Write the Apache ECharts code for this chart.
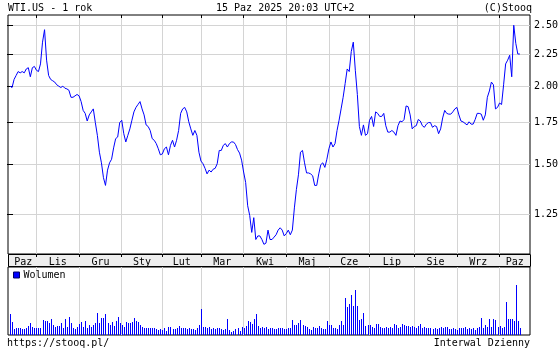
<!DOCTYPE html>
<html><head><meta charset="utf-8">
<script src="https://cdn.jsdelivr.net/npm/echarts@6/dist/echarts.min.js"></script>
<style>html,body{margin:0;padding:0;background:#fff}#c{width:560px;height:350px}</style>
</head><body><div id="c"></div>
<script>
// daily close prices (USD), 2024-10-15 .. 2025-10-15
const priceValues = [
2.00,1.99,2.05,2.08,2.11,2.10,2.11,2.10,2.13,2.14,
2.07,2.14,2.15,2.12,2.11,2.17,2.35,2.46,2.20,2.08,
2.05,2.04,2.03,2.01,2.00,1.99,2.00,1.985,1.98,1.97,
1.92,1.92,1.93,1.94,1.93,1.89,1.83,1.81,1.76,1.80,
1.82,1.84,1.75,1.67,1.57,1.51,1.43,1.39,1.47,1.51,
1.53,1.595,1.65,1.66,1.75,1.765,1.68,1.63,1.67,1.71,
1.765,1.82,1.85,1.87,1.89,1.84,1.80,1.735,1.725,1.70,
1.65,1.64,1.62,1.59,1.555,1.56,1.59,1.60,1.555,1.61,
1.64,1.60,1.64,1.70,1.81,1.84,1.85,1.82,1.755,1.71,
1.67,1.70,1.67,1.57,1.52,1.505,1.48,1.45,1.47,1.46,
1.475,1.48,1.505,1.58,1.58,1.61,1.62,1.60,1.62,1.63,
1.63,1.615,1.585,1.565,1.525,1.46,1.405,1.29,1.245,1.17,
1.235,1.14,1.155,1.155,1.14,1.12,1.125,1.18,1.14,1.14,
1.15,1.16,1.18,1.19,1.18,1.155,1.165,1.18,1.16,1.18,
1.28,1.37,1.445,1.57,1.58,1.51,1.455,1.455,1.45,1.44,
1.39,1.39,1.45,1.50,1.51,1.485,1.53,1.59,1.63,1.60,
1.62,1.70,1.765,1.84,1.92,2.02,2.13,2.11,2.27,2.35,
2.12,1.94,1.725,1.67,1.735,1.67,1.68,1.765,1.79,1.725,
1.82,1.81,1.79,1.79,1.81,1.73,1.69,1.69,1.70,1.69,
1.67,1.73,1.76,1.755,1.77,1.86,1.855,1.80,1.71,1.725,
1.73,1.77,1.76,1.73,1.72,1.74,1.75,1.75,1.72,1.73,
1.725,1.68,1.71,1.78,1.83,1.81,1.805,1.805,1.82,1.84,
1.85,1.80,1.76,1.755,1.745,1.735,1.755,1.74,1.74,1.77,
1.81,1.81,1.805,1.765,1.80,1.92,1.965,2.03,2.01,1.84,
1.85,1.88,1.87,2.01,2.17,2.20,2.24,2.07,2.50,2.34,
2.25,2.25
];
// daily volume (millions, estimated)
const volumeValues = [
10.5,6.7,2.8,3.3,3.3,3.3,2.8,2.8,3.3,4.5,
5.8,4.2,3.3,3.7,3.3,3.3,7.5,7.2,7.2,6.2,
7.8,5.0,3.8,4.5,4.5,5.8,3.3,7.8,3.8,9.2,
6.2,3.3,2.8,3.8,5.5,6.7,3.8,6.8,3.3,5.0,
3.8,5.0,5.8,11.2,5.8,8.3,8.3,10.5,5.8,5.0,
6.7,4.5,7.2,8.8,6.2,5.0,3.8,6.7,6.2,5.8,
6.7,8.5,7.2,6.7,5.0,3.8,3.3,3.3,3.3,3.3,
3.3,3.3,2.8,2.5,2.8,2.5,3.3,2.2,3.8,3.8,
2.8,2.8,3.3,4.5,3.3,3.3,3.3,2.8,3.3,2.8,
2.8,2.5,3.3,5.0,13.0,4.2,3.8,3.3,3.8,2.8,
3.3,2.8,3.3,3.3,2.8,2.5,2.8,8.0,2.5,1.7,
2.2,2.8,3.3,2.2,3.8,3.3,4.5,7.2,6.7,5.5,
7.8,10.5,4.5,3.3,4.2,3.3,3.8,2.8,3.3,3.3,
2.8,2.8,3.3,3.3,3.3,2.8,2.8,3.3,3.3,7.5,
5.0,5.0,5.8,7.5,5.0,4.5,3.8,2.8,2.5,3.8,
3.3,3.3,4.5,3.3,3.2,2.8,7.0,5.0,5.0,3.3,
3.3,2.8,5.0,7.2,5.0,18.3,13.8,15.5,20.0,14.5,
22.5,14.5,7.5,7.8,10.8,4.5,5.0,5.0,3.8,3.3,
5.5,5.5,4.2,3.3,3.3,3.8,3.3,3.8,3.3,5.5,
5.0,3.3,3.8,5.5,5.0,4.5,4.5,3.8,4.5,3.8,
3.3,4.5,5.5,3.3,3.8,3.3,3.3,3.3,2.8,3.3,
2.8,3.3,3.8,3.3,3.8,3.8,2.8,2.8,3.3,2.8,
2.5,3.3,3.3,3.3,3.8,2.8,3.3,2.8,3.3,2.5,
3.3,3.8,8.3,3.3,5.0,3.8,8.0,3.8,7.8,7.5,
3.8,4.5,3.3,3.8,16.7,7.8,7.8,7.8,7.2,25.0,
7.2,3.3
];
const monthLabels = ['Paz','Lis','Gru','Sty','Lut','Mar','Kwi','Maj','Cze','Lip','Sie','Wrz','Paz'];
const monthStartIndex = [13,34,55,75,94,115,136,157,177,199,220,241];
const priceTicks = [1.25,1.5,1.75,2.0,2.25,2.5];
const xMin = -1, xMax = 256;
const priceMin = 1.081, priceMax = 2.596;
const volMax = 34;

const FONT = 'DejaVu Sans Mono';
const GRID_C = '#d4d4d4';
const BLUE = '#0000ff';
const bounds = [0].concat(monthStartIndex, [xMax]);
const labelPos = monthLabels.map((m, k) => (bounds[k] + bounds[k + 1]) / 2);
const logTicks = priceTicks.map(v => Math.log10(v));

const chart = echarts.init(document.getElementById('c'), null, {renderer: 'canvas'});
chart.setOption({
  animation: false,
  backgroundColor: '#fff',
  grid: [
    {left: 8, top: 15, right: 30, height: 239, show: true, borderColor: '#000', borderWidth: 1, outerBoundsMode: 'none', containLabel: false},
    {left: 8, top: 267, right: 30, height: 68, show: true, borderColor: '#000', borderWidth: 1, outerBoundsMode: 'none', containLabel: false}
  ],
  legend: {
    data: ['Wolumen'], left: 13, top: 270, padding: 0, icon: 'rect', itemWidth: 6, itemHeight: 6,
    selectedMode: false, itemStyle: {color: BLUE, borderColor: '#000066', borderWidth: 1},
    textStyle: {fontFamily: FONT, fontSize: 10, color: '#000', padding: [1, 0, 0, -1]}
  },
  xAxis: [
    {gridIndex: 0, type: 'value', min: xMin, max: xMax, position: 'bottom',
     axisLine: {show: false},
     axisTick: {show: true, customValues: monthStartIndex, length: 3, inside: false, lineStyle: {color: '#000'}},
     axisLabel: {customValues: labelPos, margin: 3, fontFamily: FONT, fontSize: 10, color: '#000',
       formatter: v => { const k = labelPos.findIndex(p => Math.abs(p - v) < 0.01); return k >= 0 ? monthLabels[k] : ''; }},
     splitLine: {show: true, lineStyle: {color: GRID_C, width: 1}}},
    {gridIndex: 0, type: 'value', min: xMin, max: xMax, position: 'top',
     axisLine: {show: false},
     axisTick: {show: true, customValues: monthStartIndex, length: 3, inside: true, lineStyle: {color: '#000'}},
     axisLabel: {show: false}, splitLine: {show: false}},
    {gridIndex: 1, type: 'value', min: xMin, max: xMax, position: 'bottom',
     axisLine: {show: false},
     axisTick: {show: false, customValues: monthStartIndex},
     axisLabel: {show: false},
     splitLine: {show: true, lineStyle: {color: GRID_C, width: 1}}}
  ],
  yAxis: [
    {gridIndex: 0, type: 'value', position: 'right', min: Math.log10(priceMin), max: Math.log10(priceMax),
     axisLine: {show: false},
     axisTick: {show: true, customValues: logTicks, length: 3, inside: true, lineStyle: {color: '#000'}},
     axisLabel: {customValues: logTicks, margin: 4, fontFamily: FONT, fontSize: 10, color: '#000',
       formatter: v => Math.pow(10, v).toFixed(2)},
     splitLine: {show: true, lineStyle: {color: GRID_C, width: 1}}},
    {gridIndex: 0, type: 'value', position: 'left', min: Math.log10(priceMin), max: Math.log10(priceMax),
     axisLine: {show: false},
     axisTick: {show: true, customValues: logTicks, length: 3, inside: true, lineStyle: {color: '#000'}},
     axisLabel: {show: false}, splitLine: {show: false}},
    {gridIndex: 1, type: 'value', min: 0, max: volMax, show: false}
  ],
  graphic: [
    {type: 'rect', z: -5, silent: true, shape: {x: 8.5, y: 254.5, width: 522, height: 12}, style: {fill: '#eeeeee', stroke: '#000', lineWidth: 1}},
    {type: 'text', left: 8, top: 3, style: {text: 'WTI.US - 1 rok', font: '10px ' + FONT, fill: '#000'}},
    {type: 'text', left: 216, top: 3, style: {text: '15 Paz 2025 20:03 UTC+2', font: '10px ' + FONT, fill: '#000'}},
    {type: 'text', right: 28, top: 3, style: {text: '(C)Stooq', font: '10px ' + FONT, fill: '#000'}},
    {type: 'text', left: 7, top: 338, style: {text: 'https://stooq.pl/', font: '10px ' + FONT, fill: '#000'}},
    {type: 'text', right: 30, top: 338, style: {text: 'Interwal Dzienny', font: '10px ' + FONT, fill: '#000'}}
  ],
  series: [
    {type: 'line', name: 'WTI.US', xAxisIndex: 0, yAxisIndex: 0, symbol: 'none', smooth: false,
     lineStyle: {color: BLUE, width: 1}, itemStyle: {color: BLUE},
     data: priceValues.map((p, i) => [i, Math.log10(p)])},
    {type: 'custom', name: 'Wolumen', xAxisIndex: 2, yAxisIndex: 2, itemStyle: {color: BLUE},
     encode: {x: 0, y: 1},
     data: volumeValues.map((v, i) => [i, v]),
     renderItem: (params, api) => {
       const top = api.coord([api.value(0), api.value(1)]);
       const base = api.coord([api.value(0), 0]);
       const x = Math.round(top[0]);
       const y0 = Math.round(top[1]);
       const y1 = Math.round(base[1]);
       return {type: 'rect', shape: {x: x, y: y0, width: 1, height: y1 - y0}, style: {fill: BLUE}};
     }}
  ]
});
</script></body></html>
